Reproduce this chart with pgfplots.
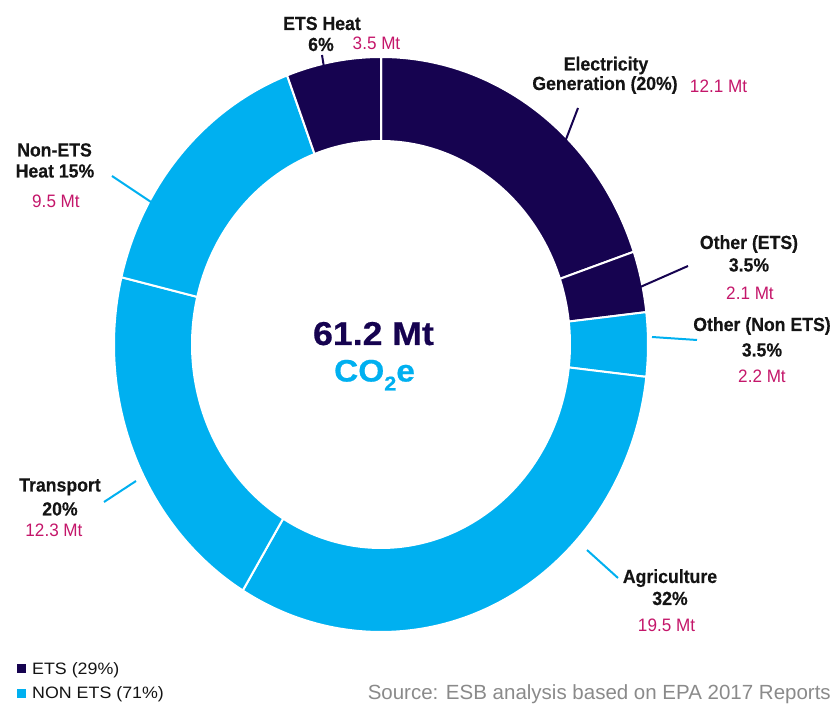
\documentclass[border=0pt]{standalone}
\usepackage{pgfplots}
\pgfplotsset{compat=1.18}
\usepackage{pgfplotstable}
\usepackage{fontspec}
\setmainfont{Liberation Sans}
\newfontfamily\labfont[FakeStretch=0.93, FakeBold=0.35]{Liberation Sans}
\newfontfamily\valfont[FakeStretch=0.95]{Liberation Sans}
\newfontfamily\legfont[FakeStretch=1.08]{Liberation Sans}
\newfontfamily\bigfont[FakeStretch=1.08, FakeBold=0.6]{Liberation Sans}
\definecolor{navy}{RGB}{22,3,80}
\definecolor{lblue}{RGB}{0,176,240}
\definecolor{mag}{RGB}{196,22,106}
\definecolor{lblack}{RGB}{20,20,20}
\definecolor{srcgrey}{RGB}{138,138,138}

% sector, value (Mt), group (0 = ETS, 1 = NON ETS); clockwise from 12 o'clock
\pgfplotstableread[col sep=comma]{
label,value,group
Electricity Generation,12.1,0
Other (ETS),2.1,0
Other (Non ETS),2.2,1
Agriculture,19.5,1
Transport,12.3,1
Non-ETS Heat,9.5,1
ETS Heat,3.5,0
}\datatable

% cumulative angles
\def\total{0}
\pgfplotsforeachungrouped \i in {0,...,6}{%
  \pgfplotstablegetelem{\i}{value}\of\datatable
  \pgfmathsetmacro\total{\total+\pgfplotsretval}%
  \xdef\total{\total}%
}
\def\cum{0}
\pgfplotsforeachungrouped \i in {0,...,6}{%
  \pgfplotstablegetelem{\i}{value}\of\datatable
  \let\v\pgfplotsretval
  \pgfmathsetmacro\sa{90-360*(\cum/\total)}%
  \pgfmathsetmacro\cum{\cum+\v}%
  \xdef\cum{\cum}%
  \pgfmathsetmacro\ea{90-360*(\cum/\total)}%
  \expandafter\xdef\csname sa\i\endcsname{\sa}%
  \expandafter\xdef\csname ea\i\endcsname{\ea}%
  \pgfplotstablegetelem{\i}{group}\of\datatable
  \ifnum\pgfplotsretval=0
    \expandafter\xdef\csname col\i\endcsname{navy}%
  \else
    \expandafter\xdef\csname col\i\endcsname{lblue}%
  \fi
}

\def\cx{381}\def\cy{357.5}
\def\rxo{267}\def\ryo{287.5}
\def\rxi{189}\def\ryi{203.5}

\tikzset{
  lab/.style={font=\labfont\bfseries\fontsize{19}{20}\selectfont, text=lblack, anchor=base, inner sep=0pt},
  val/.style={font=\valfont\fontsize{18}{20}\selectfont, text=mag, anchor=base, inner sep=0pt},
}

\begin{document}
\begin{tikzpicture}
\begin{axis}[
  width=833pt, height=702pt, scale only axis,
  xmin=0, xmax=833, ymin=0, ymax=702,
  hide axis, clip=false,
]
\addplot[draw=none] coordinates {(0,0) (833,702)};

\pgfplotsinvokeforeach{0,...,6}{%
  \fill[fill=\csname col#1\endcsname, draw=white, line width=2pt]
    (axis cs:{\cx+\rxo*cos(\csname sa#1\endcsname)},{\cy+\ryo*sin(\csname sa#1\endcsname)})
    arc[start angle=\csname sa#1\endcsname, end angle=\csname ea#1\endcsname, x radius=\rxo pt, y radius=\ryo pt]
    -- (axis cs:{\cx+\rxi*cos(\csname ea#1\endcsname)},{\cy+\ryi*sin(\csname ea#1\endcsname)})
    arc[start angle=\csname ea#1\endcsname, end angle=\csname sa#1\endcsname, x radius=\rxi pt, y radius=\ryi pt]
    -- cycle;
}

% leader lines
\draw[navy, line width=2pt] (axis cs:322,647) -- (axis cs:326,622);
\draw[navy, line width=2pt] (axis cs:578,594) -- (axis cs:560,547);
\draw[navy, line width=2pt] (axis cs:688,436) -- (axis cs:638,414);
\draw[lblue, line width=2pt] (axis cs:652,365) -- (axis cs:697,362);
\draw[lblue, line width=2pt] (axis cs:112,526) -- (axis cs:157,496);
\draw[lblue, line width=2pt] (axis cs:104,200) -- (axis cs:136,221);
\draw[lblue, line width=2pt] (axis cs:587,152) -- (axis cs:618,124);

% labels
\node[lab] at (axis cs:322,672) {ETS Heat};
\node[lab] at (axis cs:321,651) {6\%};
\node[val] at (axis cs:376.5,652) {3.5 Mt};

\node[lab] at (axis cs:606,631.5) {Electricity};
\node[lab] at (axis cs:605,612) {Generation (20\%)};
\node[val] at (axis cs:718.5,609.5) {12.1 Mt};

\node[lab] at (axis cs:749,453) {Other (ETS)};
\node[lab] at (axis cs:749,430.5) {3.5\%};
\node[val] at (axis cs:750,402) {2.1 Mt};

\node[lab] at (axis cs:762,371) {Other (Non ETS)};
\node[lab] at (axis cs:762,345.5) {3.5\%};
\node[val] at (axis cs:762,319.5) {2.2 Mt};

\node[lab] at (axis cs:54.5,545.5) {Non-ETS};
\node[lab] at (axis cs:55,524.5) {Heat 15\%};
\node[val] at (axis cs:56,494.5) {9.5 Mt};

\node[lab] at (axis cs:60,210.5) {Transport};
\node[lab] at (axis cs:60,186.5) {20\%};
\node[val] at (axis cs:54,165.5) {12.3 Mt};

\node[lab] at (axis cs:670,119) {Agriculture};
\node[lab] at (axis cs:670,97) {32\%};
\node[val] at (axis cs:666.5,70.5) {19.5 Mt};

% centre
\node[font=\bigfont\bfseries\fontsize{33}{36}\selectfont, text=navy, anchor=base, inner sep=0pt] at (axis cs:373.5,357) {61.2 Mt};
\node[font=\bigfont\bfseries\fontsize{31}{34}\selectfont, text=lblue, anchor=base, inner sep=0pt] at (axis cs:374.5,320.5) {CO\raisebox{-9pt}{\fontsize{20}{22}\selectfont 2}e};

% legend
\fill[navy] (axis cs:17,29) rectangle (axis cs:26,38);
\fill[lblue] (axis cs:17,4) rectangle (axis cs:26,13);
\node[font=\legfont\fontsize{16.5}{20}\selectfont, text=lblack, anchor=base west, inner sep=0pt] at (axis cs:32,28) {ETS (29\%)};
\node[font=\legfont\fontsize{16.5}{20}\selectfont, text=lblack, anchor=base west, inner sep=0pt] at (axis cs:32,4) {NON ETS (71\%)};
\node[font=\fontsize{20.5}{22}\selectfont, text=srcgrey, anchor=base east, inner sep=0pt] at (axis cs:831,3) {Source: ESB analysis based on EPA 2017 Reports};
\end{axis}
\end{tikzpicture}
\end{document}
